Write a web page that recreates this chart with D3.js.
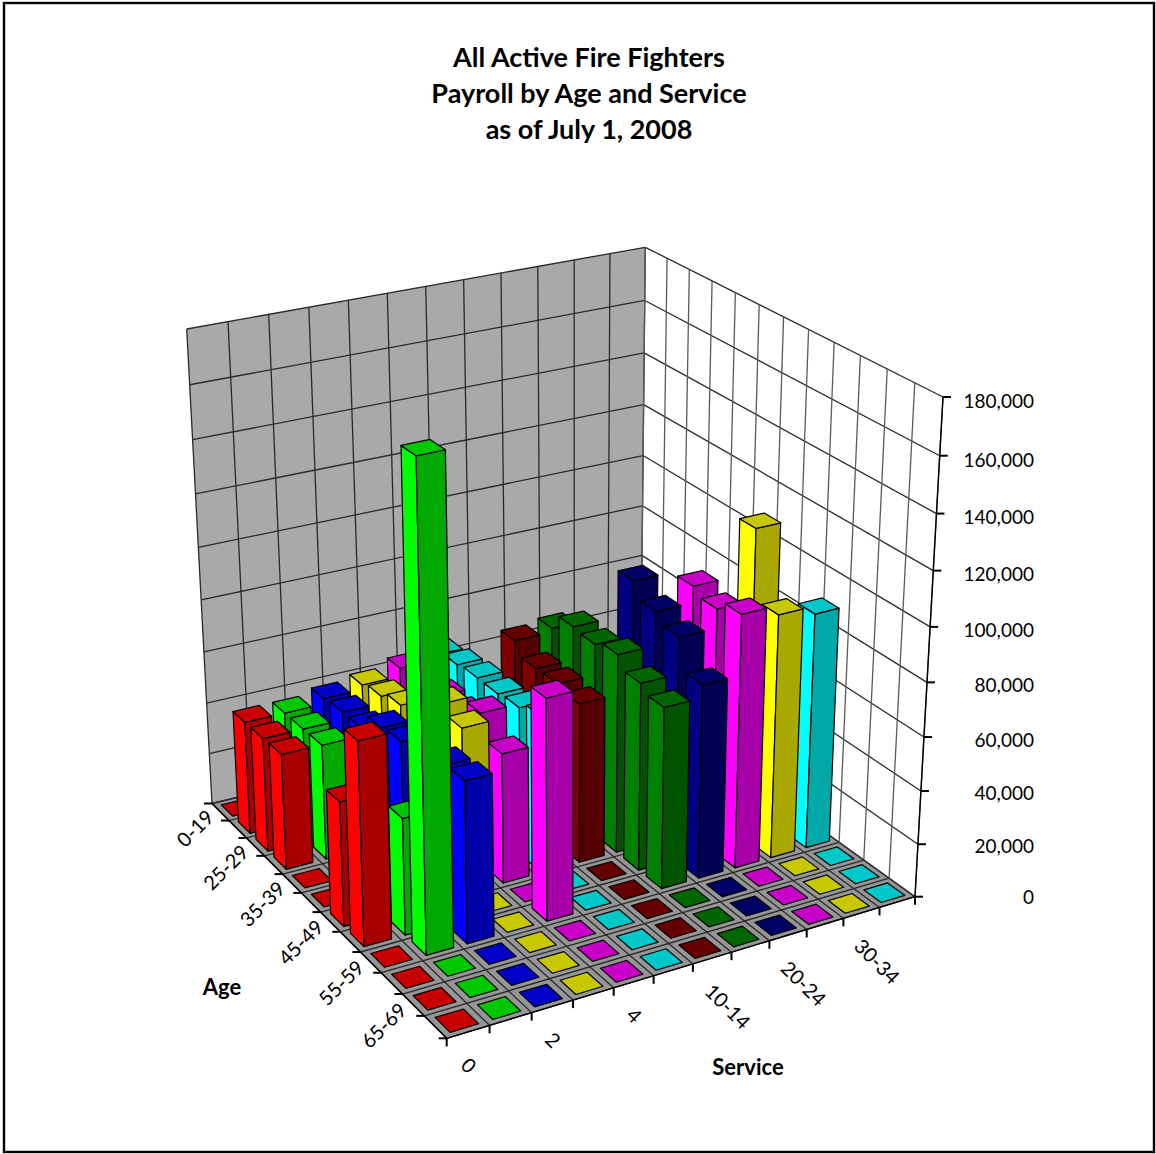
<!DOCTYPE html>
<html>
<head>
<meta charset="utf-8">
<title>All Active Fire Fighters</title>
<script src="https://cdn.jsdelivr.net/npm/d3@7/dist/d3.min.js"></script>
<style>
html,body{margin:0;padding:0;background:#fff}
svg{display:block}
text{font-family:Lato,"Open Sans",sans-serif;fill:#000}
</style>
</head>
<body>
<svg id="chart" width="1156" height="1154"></svg>
<script>
const titleLines = ["All Active Fire Fighters", "Payroll by Age and Service", "as of July 1, 2008"];
const ages = ["0-19","20-24","25-29","30-34","35-39","40-44","45-49","50-54","55-59","60-64","65-69","70+"];
const services = ["0","1","2","3","4","5-9","10-14","15-19","20-24","25-29","30-34","35+"];
const ageTickLabels = ["0-19","25-29","35-39","45-49","55-59","65-69"];
const serviceTickLabels = ["0","2","4","10-14","20-24","30-34"];
const valueTicks = [0,20000,40000,60000,80000,100000,120000,140000,160000,180000];

// Payroll per age band, one entry per service band
const age0_19  = [0,0,0,0,0,0,0,0,0,0,0,0];
const age20_24 = [43500,43500,45600,47400,50500,52500,0,0,0,0,0,0];
const age25_29 = [43700,43700,46600,49200,52000,54500,0,0,0,0,0,0];
const age30_34 = [44200,44000,46800,52000,52000,55500,66400,67800,0,0,0,0];
const age35_39 = [0,0,53400,55000,51500,55500,61700,74200,0,0,0,0];
const age40_44 = [0,0,54700,65000,58000,56500,62000,73400,94000,0,0,0];
const age45_49 = [46600,0,57000,62500,49200,59500,60700,75600,88300,94400,0,0];
const age50_54 = [75500,43500,59000,0,0,0,0,71000,84600,91700,118000,0];
const age55_59 = [0,176200,60200,0,82500,0,0,68300,73000,95500,92000,89000];
const age60_64 = [0,0,0,0,0,0,0,0,0,0,0,0];
const age65_69 = [0,0,0,0,0,0,0,0,0,0,0,0];
const age70up  = [0,0,0,0,0,0,0,0,0,0,0,0];
const payroll = [age0_19,age20_24,age25_29,age30_34,age35_39,age40_44,age45_49,age50_54,age55_59,age60_64,age65_69,age70up];

// side / front / top shades per service band
const sideColors  = ["#ff0000","#00ff00","#0000ff","#ffff00","#ff00ff","#00ffff","#800000","#008000","#000080","#ff00ff","#ffff00","#00ffff"];
const frontColors = ["#a80000","#00a800","#0000a8","#a8a800","#a800a8","#00a8a8","#540000","#005400","#000054","#a800a8","#a8a800","#00a8a8"];
const topColors   = ["#c80000","#00c800","#0000c8","#c8c800","#c800c8","#00c8c8","#660000","#006600","#000066","#c800c8","#c8c800","#00c8c8"];

// Plot box in perspective: corners of the floor plane and of the top plane,
// ordered back-left, back-right, front-right, front-left
const floorCorners = [[212,803.5],[640.5,700],[915,896.7],[446.7,1038.3]];
const ceilingCorners = [[186.7,329],[645.3,247.3],[943,397],[438,508]];
const heightBias = 1.065;

function quadMap([[x0,y0],[x1,y1],[x2,y2],[x3,y3]]){
  const dx1=x1-x2,dx2=x3-x2,sx=x0-x1+x2-x3,dy1=y1-y2,dy2=y3-y2,sy=y0-y1+y2-y3;
  const den=dx1*dy2-dx2*dy1;
  const g=(sx*dy2-dx2*sy)/den,h=(dx1*sy-sx*dy1)/den;
  const a=x1-x0+g*x1,b=x3-x0+h*x3,d=y1-y0+g*y1,e=y3-y0+h*y3;
  return (u,v)=>{const W=g*u+h*v+1;return [(a*u+b*v+x0)/W,(d*u+e*v+y0)/W];};
}
const floorMap=quadMap(floorCorners), ceilingMap=quadMap(ceilingCorners);
const project=(u,v,w)=>{
  const t=w/(w+(1-w)*heightBias);
  const p=floorMap(u,v),q=ceilingMap(u,v);
  return [p[0]+(q[0]-p[0])*t,p[1]+(q[1]-p[1])*t];
};

const uScale=d3.scaleBand().domain(services).range([0,1]).paddingInner(1/3).paddingOuter(1/6);
const vScale=d3.scaleBand().domain(ages).range([0,1]).paddingInner(1/3).paddingOuter(1/6);
const wScale=d3.scaleLinear().domain([0,180000]).range([0,1]);
const uEdge=i=>i/services.length, vEdge=i=>i/ages.length;

const svg=d3.select("#chart");
const poly=pts=>pts.map(p=>p.map(n=>n.toFixed(2)).join(",")).join(" ");
const gridColor="#2a2a2a";

svg.append("rect").attr("x",4).attr("y",3).attr("width",1150).attr("height",1149)
  .attr("fill","#fff").attr("stroke","#000").attr("stroke-width",2.4);

// walls and floor
svg.append("polygon").attr("points",poly([project(0,0,0),project(1,0,0),project(1,0,1),project(0,0,1)])).attr("fill","#a9a9a9");
svg.append("polygon").attr("points",poly([project(1,0,0),project(1,1,0),project(1,1,1),project(1,0,1)])).attr("fill","#ffffff");
svg.append("polygon").attr("points",poly([project(0,0,0),project(1,0,0),project(1,1,0),project(0,1,0)])).attr("fill","#969696");

const line=(a,b,width,color)=>svg.append("line")
  .attr("x1",a[0]).attr("y1",a[1]).attr("x2",b[0]).attr("y2",b[1])
  .attr("stroke",color||gridColor).attr("stroke-width",width||1.3);

// wall and floor gridlines
valueTicks.forEach(t=>{
  const w=wScale(t);
  line(project(0,0,w),project(1,0,w));
  line(project(1,0,w),project(1,1,w));
});
d3.range(services.length+1).forEach(i=>{
  const u=uEdge(i);
  line(project(u,0,0),project(u,0,1));
  line(project(u,0,0),project(u,1,0));
});
d3.range(ages.length+1).forEach(i=>{
  const v=vEdge(i);
  line(project(1,v,0),project(1,v,1),1.3,"#5a5a5a");
  line(project(0,v,0),project(1,v,0));
});

// axis lines and tick marks
line(project(0,0,0),project(0,1,0),1.4,"#000");
line(project(0,1,0),project(1,1,0),1.4,"#000");
line(project(1,1,0),project(1,1,1),1.4,"#000");
d3.range(ages.length+1).forEach(i=>{
  const p=project(0,vEdge(i),0);
  line([p[0]-8,p[1]],p,2,"#000");
});
d3.range(services.length+1).forEach(i=>{
  const p=project(uEdge(i),1,0);
  line(p,[p[0],p[1]+8],2,"#000");
});
valueTicks.forEach(t=>{
  const p=project(1,1,wScale(t));
  line(p,[p[0]+8,p[1]],2,"#000");
});

// bars, painted from the far corner forward
const cells=[];
ages.forEach((age,r)=>{
  d3.range(services.length-1,-1,-1).forEach(c=>{
    cells.push({age,service:services[c],c,value:payroll[r][c]});
  });
});
const bars=svg.append("g").selectAll("g").data(cells).join("g");
const box=d=>{
  const u0=uScale(d.service),u1=u0+uScale.bandwidth(),v0=vScale(d.age),v1=v0+vScale.bandwidth(),w=wScale(d.value);
  return {u0,u1,v0,v1,w};
};
const stroke=sel=>sel.attr("stroke","#000").attr("stroke-width",1.2).attr("stroke-linejoin","round");
bars.filter(d=>d.value>0).append("polygon").call(stroke)
  .attr("fill",d=>sideColors[d.c])
  .attr("points",d=>{const b=box(d);return poly([project(b.u0,b.v0,0),project(b.u0,b.v1,0),project(b.u0,b.v1,b.w),project(b.u0,b.v0,b.w)]);});
bars.filter(d=>d.value>0).append("polygon").call(stroke)
  .attr("fill",d=>frontColors[d.c])
  .attr("points",d=>{const b=box(d);return poly([project(b.u0,b.v1,0),project(b.u1,b.v1,0),project(b.u1,b.v1,b.w),project(b.u0,b.v1,b.w)]);});
bars.append("polygon").call(stroke)
  .attr("fill",d=>topColors[d.c])
  .attr("points",d=>{const b=box(d);return poly([project(b.u0,b.v0,b.w),project(b.u1,b.v0,b.w),project(b.u1,b.v1,b.w),project(b.u0,b.v1,b.w)]);});

// tick labels
const fmt=d3.format(",");
valueTicks.forEach(t=>{
  const w=wScale(t),p=project(1,1,w);
  svg.append("text").attr("x",1034).attr("y",p[1]+7.5+3.5*Math.sqrt(w)).attr("text-anchor","end").attr("font-size",19).text(fmt(t));
});
ageTickLabels.forEach(lbl=>{
  const p=project(0,vScale(lbl)+vScale.bandwidth()/2,0);
  svg.append("text").attr("text-anchor","end").attr("dominant-baseline","central")
    .attr("transform",`translate(${p[0]-11},${p[1]+1}) rotate(-45)`).attr("font-size",20).text(lbl);
});
serviceTickLabels.forEach(lbl=>{
  const p=project(uScale(lbl)+uScale.bandwidth()/2,1,0);
  svg.append("text").attr("text-anchor","start").attr("dominant-baseline","central")
    .attr("transform",`translate(${p[0]-3},${p[1]+29}) rotate(45)`).attr("font-size",20).text(lbl);
});

// titles
svg.append("text").attr("x",589).attr("text-anchor","middle").attr("font-weight",700).attr("font-size",27)
  .selectAll("tspan").data(titleLines).join("tspan").attr("x",589).attr("y",(d,i)=>67+36*i).text(d=>d);
svg.append("text").attr("x",222).attr("y",995).attr("text-anchor","middle").attr("font-weight",700).attr("font-size",22).text("Age");
svg.append("text").attr("x",748).attr("y",1075).attr("text-anchor","middle").attr("font-weight",700).attr("font-size",22).text("Service");
</script>
</body>
</html>
